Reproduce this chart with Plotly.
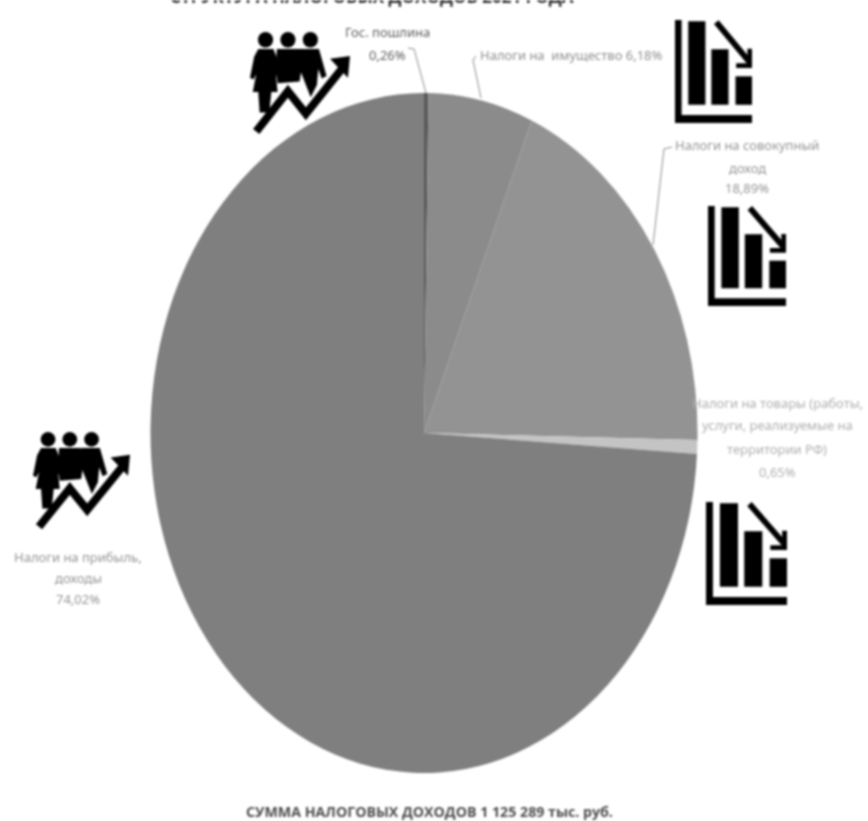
import plotly.graph_objects as go

W, H = 868, 821

categories = ["Гос. пошлина", "Налоги на имущество", "Налоги на совокупный доход",
              "Налоги на товары (работы, услуги, реализуемые на территории РФ)",
              "Налоги на прибыль, доходы"]
shares = [0.26, 6.18, 18.89, 0.65, 74.02]
slice_colors = ["#5a5a5a", "#8b8b8b", "#939393", "#c4c4c4", "#7f7f7f"]
label_lines = [
    ["Гос. пошлина", "{v}"],
    ["Налоги на  имущество {v}"],
    ["Налоги на совокупный", "доход", "{v}"],
    ["Налоги на товары (работы,", "услуги, реализуемые на", "территории РФ)", "{v}"],
    ["Налоги на прибыль,", "доходы", "{v}"],
]
title_text = "СТРУКТУРА НАЛОГОВЫХ ДОХОДОВ 2021 ГОДА"
total_text = "СУММА НАЛОГОВЫХ ДОХОДОВ 1 125 289 тыс. руб."

CX, CY, RX, RY = 424, 433, 273.5, 340


def px(x):
    return x / W


def py(y):
    return 1 - y / H


def path(points, close=False):
    s = "M " + " L ".join(f"{px(x):.5f},{py(y):.5f}" for x, y in points)
    return s + (" Z" if close else "")


def solid(points):
    return dict(type="path", xref="paper", yref="paper", path=path(points, True),
                fillcolor="black", line=dict(width=0))


def stroke(points, width, color="black"):
    return dict(type="path", xref="paper", yref="paper", path=path(points),
                line=dict(color=color, width=width))


def bars_icon(x0, y0, w, h):
    f = lambda u, v: (x0 + u * w / 233, y0 + v * h / 300)
    rect = lambda a, b, c, d: solid([f(a, b), f(c, b), f(c, d), f(a, d)])
    return [
        rect(0, 0, 20, 300), rect(0, 277, 233, 300),
        rect(40, 4, 92, 247), rect(110, 85, 162, 247), rect(183, 164, 233, 247),
        stroke([f(125, 6), f(225, 122)], 6),
        solid([f(219, 84), f(233, 84), f(233, 140), f(185, 140), f(185, 126), f(219, 126)]),
    ]


def people_icon(x0, y0, w, h):
    f = lambda u, v: (x0 + u * w / 290, y0 + v * h / 292)
    out = []
    for hx in (45, 110, 175):
        a, b = f(hx - 22, 0), f(hx + 22, 44)
        out.append(dict(type="circle", xref="paper", yref="paper",
                        x0=px(a[0]), x1=px(b[0]), y0=py(a[1]), y1=py(b[1]),
                        fillcolor="black", line=dict(width=0)))
    left = [(24, 48), (68, 48), (84, 90), (76, 130), (80, 170), (62, 170), (56, 228), (28, 228),
            (24, 170), (8, 170), (18, 120), (10, 135), (0, 130), (12, 70)]
    middle = [(78, 48), (142, 48), (150, 100), (144, 140), (80, 145), (74, 100)]
    right = [(142, 48), (200, 48), (222, 125), (208, 132), (198, 105), (194, 150),
             (176, 185), (156, 135), (142, 100)]
    for body in (left, middle, right):
        out.append(solid([f(u, v) for u, v in body]))
    out.append(stroke([f(18, 282), f(110, 168), f(162, 232), f(270, 100)], 8))
    out.append(solid([f(232, 76), f(290, 68), f(284, 130)]))
    return out


shapes = []
shapes += bars_icon(675, 20, 77, 103)
shapes += bars_icon(708, 206, 78, 100)
shapes += bars_icon(706, 502, 81, 103)
shapes += people_icon(250, 32, 100, 103)
shapes += people_icon(33, 432, 97, 98)

leader_color = "#8c8c8c"
shapes += [
    stroke([(408, 48), (414, 49), (426, 93)], 1, leader_color),
    stroke([(481, 98), (473, 60), (476, 56)], 1, leader_color),
    stroke([(653, 245), (664, 149), (672, 147)], 1, leader_color),
]

label_center_x = [387, 571, 747, 777, 78]
label_rows = [[32, 55], [55], [145, 168, 188], [403, 425, 449, 472], [557, 578, 599]]
label_color = ["#5f5f5f", "#909090", "#969696", "#b0b0b0", "#969696"]

annotations = []
for lines, v, x, rows, c in zip(label_lines, shares, label_center_x, label_rows, label_color):
    value = f"{v:.2f}%".replace(".", ",")
    for line, y in zip(lines, rows):
        annotations.append(dict(xref="paper", yref="paper", x=px(x), y=py(y),
                                text=line.format(v=value).replace("  ", "\u00a0\u00a0"),
                                showarrow=False, xanchor="center", yanchor="middle",
                                font=dict(family="Noto Sans", size=13, color=c)))
annotations.append(dict(xref="paper", yref="paper", x=px(429), y=py(811), text=total_text,
                        showarrow=False, xanchor="center", yanchor="middle",
                        font=dict(family="Open Sans", size=14.2, color="#4d4d4d", weight="bold")))
annotations.append(dict(xref="paper", yref="paper", x=px(372), y=py(10), text=title_text,
                        showarrow=False, xanchor="center", yanchor="bottom",
                        font=dict(family="Open Sans", size=17, color="#333333", weight="bold")))

fig = go.Figure(go.Pie(
    labels=categories, values=shares, sort=False, direction="clockwise", rotation=0,
    marker=dict(colors=slice_colors, line=dict(width=0)),
    textinfo="none", showlegend=False,
    domain=dict(x=[px(CX - RX), px(CX + RX)], y=[py(CY + RX), py(CY - RX)]),
))
fig.update_layout(width=W, height=H, margin=dict(l=0, r=0, t=0, b=0),
                  paper_bgcolor="white", shapes=shapes, annotations=annotations)

# The reference pie is stretched vertically into an ellipse, and the whole picture is soft.
stretch = f"""
document.body.style.margin = '0';
var gd = document.getElementById('{{plot_id}}');
gd.querySelectorAll('.pielayer .trace').forEach(function (g) {{
  g.setAttribute('transform', 'translate({CX},{CY}) scale(1,{RY / RX:.4f}) translate({-CX},{-CY})');
}});
gd.style.filter = 'blur(1px)';
"""
fig.write_html("out.html", post_script=stretch, config=dict(displayModeBar=False))
